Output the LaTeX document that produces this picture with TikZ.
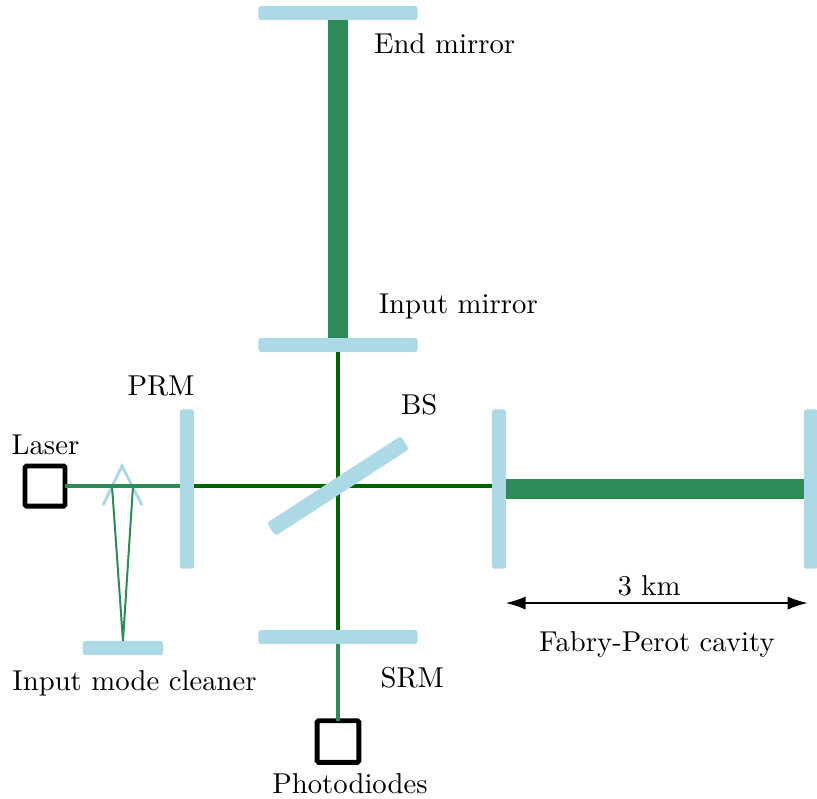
\documentclass[tikz,border=0pt]{standalone}
\usepackage{tikz}
\usetikzlibrary{arrows,arrows.meta}
\tikzset{>={Latex[length=7pt,width=4.6pt]}}

\begin{document}
\begin{tikzpicture}[align=center]
\tikzstyle{mirror} = [rectangle,fill=lightblue,inner sep=0pt,outer sep=0pt,minimum width=1.95cm,minimum height=0.175cm,rounded corners=1pt]
\tikzstyle{vmirror} = [mirror,minimum width=0.175cm,minimum height=1.95cm]
\tikzstyle{det} = [rectangle,draw,line width=1.7pt,inner sep=0pt,outer sep=0pt,minimum size=0.49cm,rounded corners=0.5pt]
\tikzstyle{cavity} = [seagreen,line width=6.95pt]
\tikzstyle{arm} = [darkgreen,line width=1.39pt]
\tikzstyle{beam} = [seagreen,line width=1.1pt]
\tikzstyle{thinbeam} = [seagreen,line width=0.7pt]
\definecolor{lightblue}{HTML}{ADD8E6}
\definecolor{seagreen}{HTML}{2E8B57}
\definecolor{darkgreen}{HTML}{006400}
\useasboundingbox (-4.137,-3.819) rectangle (5.863,5.949);
\coordinate (bs) at (0,0);
\node[mirror] (endm) at (0,5.789) {};
\node[mirror] (inm) at (0,1.726) {};
\node[mirror] (srm) at (0,-1.848) {};
\node[vmirror] (prm) at (-1.848,-0.037) {};
\node[vmirror] (itm) at (1.971,-0.037) {};
\node[vmirror] (etm) at (5.789,-0.037) {};
\node[mirror,minimum width=0.985cm] (imc) at (-2.632,-1.983) {};
\node[det] (laser) at (-3.586,0) {};
\node[det,minimum size=0.51cm] (pd) at (0,-3.127) {};
\coordinate (apex) at (-2.644,0.245);
\coordinate (vleft) at (-2.876,-0.233);
\coordinate (vright) at (-2.399,-0.233);
\coordinate (hitleft) at (-2.766,0);
\coordinate (hitright) at (-2.509,0);
\coordinate (fpleft) at (2.05,-1.432);
\coordinate (fpright) at (5.75,-1.432);
\draw[lightblue,line width=1.04pt] (vleft) -- (apex) -- (vright);
\draw[cavity] (endm) -- (inm);
\draw[cavity] (itm) -- (etm);
\draw[beam,line width=1.6pt] (prm.east |- bs) -- (itm.west |- bs);
\draw[arm] (inm) -- (srm);
\draw[arm] (prm.east |- bs) -- (itm.west |- bs);
\draw[beam] (laser) -- (prm.west |- laser);
\draw[beam] (srm) -- (pd);
\draw[thinbeam] (hitleft) -- (imc.north) -- (hitright);
\node[mirror,minimum height=0.19cm,rotate=33] (bsm) at (bs) {};
\draw[<->,line width=0.7pt] (fpleft) -- (fpright);
\node at (1.305,5.41) {End mirror};
\node at (1.472,2.203) {Input mirror};
\node at (-2.166,1.224) {PRM};
\node at (0.995,0.991) {BS};
\node at (-3.58,0.5) {Laser};
\node at (-2.49,-2.415) {Input mode cleaner};
\node at (0.91,-2.35) {SRM};
\node at (0.147,-3.648) {Photodiodes};
\node at (3.807,-1.224) {3 km};
\node at (3.904,-1.934) {Fabry-Perot cavity};
\end{tikzpicture}
\end{document}
